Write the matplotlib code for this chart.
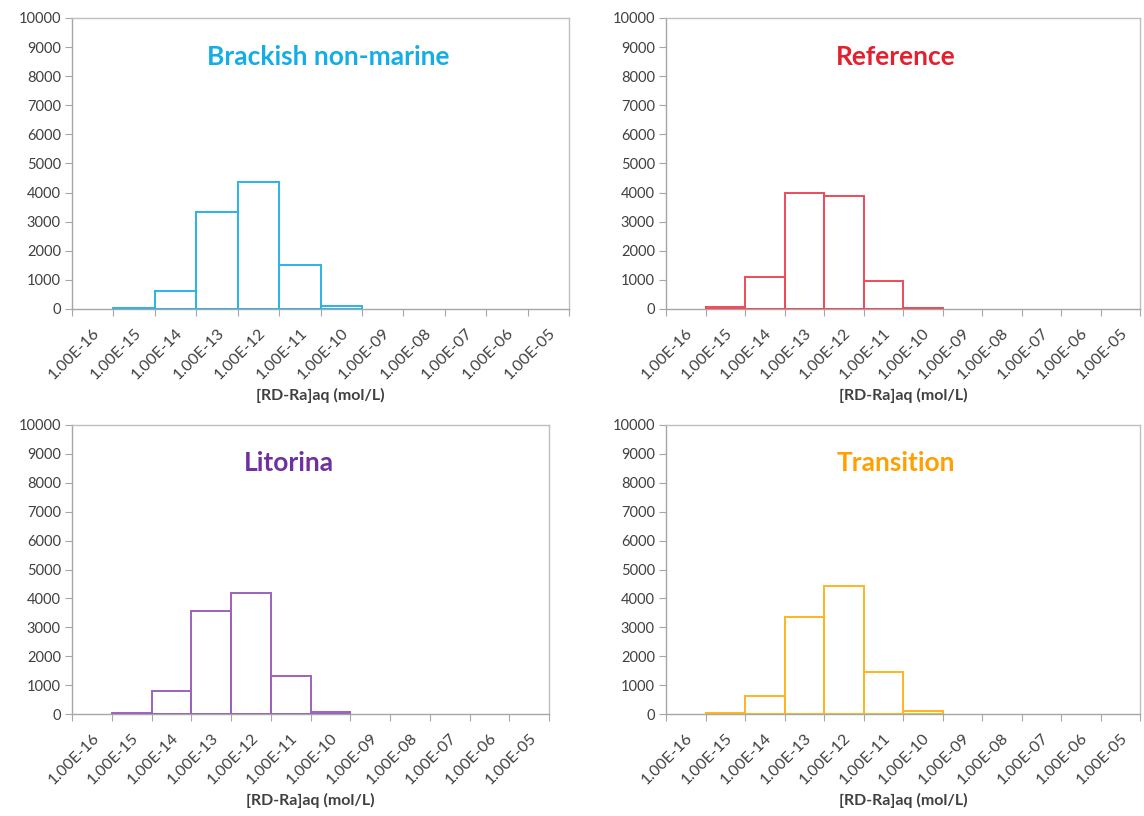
import numpy as np
import matplotlib.pyplot as plt

plt.rcParams['font.family'] = ['Lato', 'DejaVu Sans']

BIN_LABELS = ['1.00E-16', '1.00E-15', '1.00E-14', '1.00E-13', '1.00E-12', '1.00E-11',
              '1.00E-10', '1.00E-09', '1.00E-08', '1.00E-07', '1.00E-06', '1.00E-05']

TITLES = ['Brackish non-marine', 'Reference', 'Litorina', 'Transition']
brackish = [0, 30, 620, 3320, 4380, 1520, 110, 0, 0, 0, 0, 0]
reference = [0, 60, 1100, 3970, 3890, 950, 40, 0, 0, 0, 0, 0]
litorina = [0, 40, 790, 3560, 4200, 1320, 80, 0, 0, 0, 0, 0]
transition = [0, 20, 630, 3350, 4440, 1450, 120, 0, 0, 0, 0, 0]
SERIES = [brackish, reference, litorina, transition]

TITLE_COLORS = ['#14aee6', '#e3202e', '#7030a0', '#ffa000']
EDGE_COLORS = ['#2ab4e8', '#ef4a58', '#9d62bd', '#ffb41e']
TITLE_POS = [(0.515, 0.866), (0.485, 0.866), (0.455, 0.868), (0.485, 0.868)]

# axes boxes in pixels: left, right, top, bottom
W, H = 1144, 816
BOXES = [(72, 569, 18, 309), (666, 1140, 18, 309),
         (72, 549, 425, 714), (666, 1140, 425, 714)]

fig = plt.figure(figsize=(W / 100, H / 100), dpi=100)

for k in range(4):
    l, r, t, b = BOXES[k]
    ax = fig.add_axes([l / W, 1 - b / H, (r - l) / W, (b - t) / H])
    vals = np.array(SERIES[k], dtype=float)
    x = np.arange(len(vals))
    keep = vals > 0
    ax.bar(x[keep], vals[keep], width=1, align='edge', fill=False,
           edgecolor=EDGE_COLORS[k], linewidth=1.4, zorder=3)
    ax.set_xlim(0, len(vals))
    ax.set_ylim(0, 10000)
    ax.set_yticks(np.arange(0, 10001, 1000))
    # tick marks at bin edges, labels at bin centres
    ax.set_xticks(np.arange(len(vals) + 1))
    ax.set_xticklabels([])
    ax.set_xticks(x + 0.5, minor=True)
    ax.set_xticklabels(BIN_LABELS, minor=True, rotation=45, ha='right', va='top',
                       rotation_mode='anchor', fontsize=11.5, color='#404040')
    ax.tick_params(axis='x', which='minor', length=0, pad=12)
    ax.tick_params(axis='y', labelsize=10.5, labelcolor='#404040', length=5,
                   color='#a6a6a6', pad=3)
    ax.tick_params(axis='x', which='major', length=5, color='#a6a6a6')
    for s in ax.spines.values():
        s.set_color('#bfbfbf')
        s.set_linewidth(1.0)
    ax.spines['bottom'].set_color('#a6a6a6')
    ax.spines['left'].set_color('#a6a6a6')
    ax.set_xlabel('[RD-Ra]aq (mol/L)', fontsize=11.5, fontweight='bold',
                  color='#404040', labelpad=4)
    ax.text(TITLE_POS[k][0], TITLE_POS[k][1], TITLES[k], transform=ax.transAxes,
            ha='center', va='center', fontsize=19, fontweight='bold',
            color=TITLE_COLORS[k])

fig.savefig('out.png', dpi=100, facecolor='white')
